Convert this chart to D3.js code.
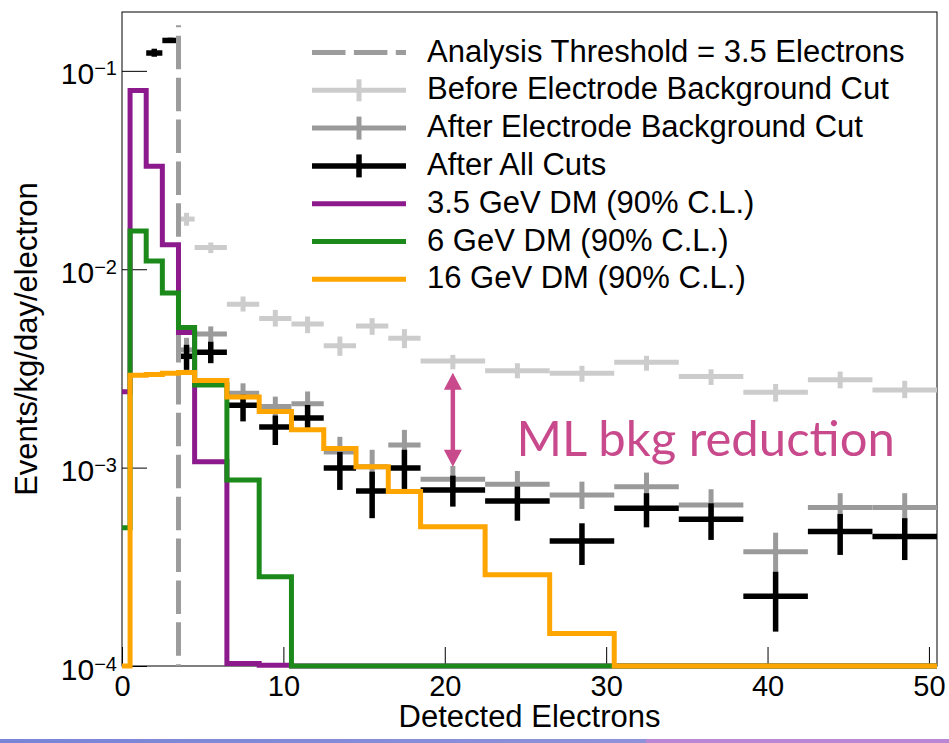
<!DOCTYPE html>
<html><head><meta charset="utf-8">
<script src="https://cdn.jsdelivr.net/npm/d3@7"></script>
<style>
html,body{margin:0;padding:0;background:#fff;}
svg{display:block;}
</style></head>
<body>
<svg id="chart" width="949" height="743"></svg>
<script>
// Bin edges shared by the measured spectra and the DM expectations
const binEdges = [-0.5, 0.5, 1.5, 2.5, 3.5, 4.5, 6.5, 8.5, 10.5, 12.5, 14.5, 16.5, 18.5, 22.5, 26.5, 30.5, 34.5, 38.5, 42.5, 46.5, 50.5];

// DM signal histograms (90% C.L.), events/kg/day/electron
const dm35 = [0.00241, 0.0796, 0.0330, 0.0133, 0.0048, 0.00107, 1.03e-4, 1.01e-4, 0, 0, 0, 0, 0, 0, 0, 0, 0, 0, 0, 0];
const dm6  = [0.000497, 0.0156, 0.0110, 0.00758, 0.00508, 0.00261, 0.000867, 0.000282, 0, 0, 0, 0, 0, 0, 0, 0, 0, 0, 0, 0];
const dm16 = [0, 0.00292, 0.00295, 0.00299, 0.00302, 0.00275, 0.00227, 0.00192, 0.00155, 0.00125, 0.00101, 0.000757, 0.000504, 0.000288, 0.000146, 0, 0, 0, 0, 0];

// Measured rates with error ranges
const beforeCut   = [null, null, null, null, 0.0179, 0.01287, 0.00667, 0.00564, 0.00529, 0.00412, 0.00518, 0.00449, 0.00345, 0.00308, 0.00299, 0.00340, 0.00288, 0.00240, 0.00277, 0.00246];
const beforeCutLo = [null, null, null, null, 0.01656, 0.01206, 0.00612, 0.00514, 0.00476, 0.00366, 0.00467, 0.00400, 0.00313, 0.00282, 0.00271, 0.00308, 0.00261, 0.00215, 0.00251, 0.00224];
const beforeCutHi = [null, null, null, null, 0.01925, 0.01364, 0.00729, 0.00624, 0.00578, 0.00458, 0.00567, 0.00499, 0.00370, 0.00336, 0.00326, 0.00366, 0.00313, 0.00264, 0.00305, 0.00274];

const afterElectrode   = [null, null, null, null, 0.00392, 0.00472, 0.00237, 0.00203, 0.00210, 0.00120, 0.00101, 0.00130, 0.000874, 0.000825, 0.000728, 0.000802, 0.000648, 0.000377, 0.000629, 0.000629];
const afterElectrodeLo = [null, null, null, null, 0.00341, 0.00433, 0.00210, 0.00180, 0.00184, 0.00101, 0.000828, 0.00108, 0.000745, 0.000703, 0.000619, 0.000679, 0.000545, 0.000299, 0.000532, 0.000532];
const afterElectrodeHi = [null, null, null, null, 0.00451, 0.00515, 0.00266, 0.00228, 0.00242, 0.00143, 0.00123, 0.00155, 0.00102, 0.000962, 0.00085, 0.000944, 0.000778, 0.00047, 0.000743, 0.000743];

const afterAll   = [null, null, 0.1230, 0.1423, 0.00364, 0.00382, 0.00206, 0.00160, 0.00178, 0.000997, 0.000763, 0.000997, 0.000772, 0.000679, 0.000427, 0.000624, 0.000549, 0.000225, 0.000476, 0.000449];
const afterAllLo = [null, null, 0.1178, 0.1386, 0.00311, 0.00336, 0.00171, 0.00130, 0.00158, 0.000772, 0.000556, 0.000781, 0.000636, 0.00054, 0.000323, 0.0005, 0.000432, 0.000149, 0.000363, 0.000342];
const afterAllHi = [null, null, 0.1293, 0.1469, 0.00416, 0.00432, 0.00233, 0.00183, 0.00207, 0.00120, 0.000954, 0.00123, 0.000911, 0.000802, 0.000524, 0.000743, 0.000661, 0.000299, 0.000584, 0.000556];

// Analysis threshold
const thresholdX = 3.5;
const thresholdTop = 0.17;

// Axis ticks
const xTicks = [0, 10, 20, 30, 40, 50];
const yTicks = [1e-4, 1e-3, 1e-2, 1e-1];
const yTickExponents = ["\u22124", "\u22123", "\u22122", "\u22121"];

// Legend
const legendLabels = [
  "Analysis Threshold = 3.5 Electrons",
  "Before Electrode Background Cut",
  "After Electrode Background Cut",
  "After All Cuts",
  "3.5 GeV DM (90% C.L.)",
  "6 GeV DM (90% C.L.)",
  "16 GeV DM (90% C.L.)"
];

// Annotation
const arrowX = 20.5, arrowTop = 0.00301, arrowBottom = 0.00101;
const noteText = "ML bkg reduction";
const noteX = 24.45, noteY = 0.00114;

const C = {
  light: "#cccccc", dark: "#9a9a9a", black: "#000000", thresh: "#9c9c9c",
  purple: "#8c1a8c", green: "#1b8a1b", orange: "#ffa500", note: "#c94a8c"
};

const FONT = "'Liberation Sans', Arial, Helvetica, sans-serif";
const svg = d3.select("#chart");
const L = 122, R = 937, T = 12, B = 666;
const yMin = 1e-4;
const x = d3.scaleLinear().domain([0, 50.5]).range([L, R]);
const y = d3.scaleLog().domain([yMin, 0.198]).range([B, T]);

// background
svg.append("rect").attr("width", 949).attr("height", 743).attr("fill", "#fff");

// bottom band
const grad = svg.append("defs").append("linearGradient").attr("id", "band").attr("x1", "0").attr("x2", "1");
grad.append("stop").attr("offset", "0").attr("stop-color", "#7884d6");
grad.append("stop").attr("offset", "1").attr("stop-color", "#8e92da");
svg.append("rect").attr("x", 0).attr("y", 739).attr("width", 646).attr("height", 4).attr("fill", "url(#band)");
svg.append("rect").attr("x", 646).attr("y", 739).attr("width", 303).attr("height", 4).attr("fill", "#bb86d4");

// axes
const gx = svg.append("g").attr("transform", `translate(0,${B})`);
gx.call(d3.axisBottom(x).tickValues(x.ticks(25).filter(t => t % 10 !== 0)).tickSize(-9.5).tickFormat(""));
gx.call(d3.axisBottom(x).tickValues(xTicks).tickSizeInner(-19).tickSizeOuter(0).tickPadding(9).tickFormat(d3.format("d")));
gx.selectAll("text").attr("font-family", FONT).attr("font-size", 29).attr("fill", "#000");
gx.selectAll("line").attr("stroke", "#000").attr("stroke-width", 1);
gx.selectAll(".domain").remove();

const gy = svg.append("g").attr("transform", `translate(${L},0)`);
gy.call(d3.axisLeft(y).tickValues(y.ticks().filter(t => !yTicks.some(m => Math.abs(m - t) / m < 1e-6))).tickSize(-12.5).tickFormat(""));
gy.call(d3.axisLeft(y).tickValues(yTicks).tickSizeInner(-25).tickSizeOuter(0).tickFormat(""));
gy.selectAll("line").attr("stroke", "#000").attr("stroke-width", 1);
gy.selectAll(".domain").remove();
gy.selectAll(".tick").filter(d => yTicks.includes(d)).each(function (d) {
  const i = yTicks.indexOf(d);
  const t = d3.select(this).append("text")
    .attr("x", -5).attr("y", 13).attr("text-anchor", "end")
    .attr("font-family", FONT).attr("fill", "#000");
  t.append("tspan").attr("font-size", 30).text("10");
  t.append("tspan").attr("font-size", 20).attr("dy", -9).text(yTickExponents[i]);
});

// frame
svg.append("rect").attr("x", L).attr("y", T).attr("width", R - L).attr("height", B - T)
  .attr("fill", "none").attr("stroke", "#000").attr("stroke-width", 1);

// axis titles
svg.append("text").attr("x", (L + R) / 2).attr("y", 727).attr("text-anchor", "middle")
  .attr("font-family", FONT).attr("font-size", 31).attr("fill", "#000").text("Detected Electrons");
svg.append("text").attr("transform", `translate(37,${(T + B) / 2}) rotate(-90)`).attr("text-anchor", "middle")
  .attr("font-family", FONT).attr("font-size", 31).attr("fill", "#000").text("Events/kg/day/electron");

// data crosses
function crosses(vals, lo, hi, color, w) {
  const g = svg.append("g").attr("stroke", color).attr("stroke-width", w);
  vals.forEach((v, i) => {
    if (v == null) return;
    const x0 = x(Math.max(binEdges[i], 0)), x1 = x(binEdges[i + 1]);
    const xc = x((binEdges[i] + binEdges[i + 1]) / 2);
    g.append("line").attr("x1", x0).attr("x2", x1).attr("y1", y(v)).attr("y2", y(v));
    g.append("line").attr("x1", xc).attr("x2", xc).attr("y1", y(hi[i])).attr("y2", y(lo[i]));
  });
}
crosses(beforeCut, beforeCutLo, beforeCutHi, C.light, 5);
crosses(afterElectrode, afterElectrodeLo, afterElectrodeHi, C.dark, 5);
crosses(afterAll, afterAllLo, afterAllHi, C.black, 5.5);

// threshold line
svg.append("line").attr("x1", x(thresholdX)).attr("x2", x(thresholdX))
  .attr("y1", y(thresholdTop)).attr("y2", y(yMin))
  .attr("stroke", C.thresh).attr("stroke-width", 5)
  .attr("stroke-dasharray", "33.5 8.4").attr("stroke-dashoffset", 31.3);

// DM histograms
function histPath(vals) {
  const pts = vals.map((v, i) => [binEdges[i], v]);
  pts.push([binEdges[binEdges.length - 1], vals[vals.length - 1]]);
  return d3.line()
    .x(d => x(Math.max(d[0], 0)))
    .y(d => y(Math.max(d[1], yMin)))
    .curve(d3.curveStepAfter)(pts);
}
[[dm35, C.purple], [dm6, C.green], [dm16, C.orange]].forEach(([vals, col]) => {
  svg.append("path").attr("d", histPath(vals)).attr("fill", "none")
    .attr("stroke", col).attr("stroke-width", 5).attr("stroke-linejoin", "miter");
});

// annotation arrow
const ax = x(arrowX), ay0 = y(arrowTop), ay1 = y(arrowBottom);
const headL = 17, headW = 9;
svg.append("line").attr("x1", ax).attr("x2", ax).attr("y1", ay0 + headL - 2).attr("y2", ay1 - headL + 2)
  .attr("stroke", C.note).attr("stroke-width", 4.5);
svg.append("path").attr("fill", C.note)
  .attr("d", `M${ax},${ay0} L${ax - headW},${ay0 + headL} L${ax + headW},${ay0 + headL} Z M${ax},${ay1} L${ax - headW},${ay1 - headL} L${ax + headW},${ay1 - headL} Z`);
svg.append("text").attr("x", x(noteX)).attr("y", y(noteY))
  .attr("font-family", "Lato, 'Open Sans', sans-serif").attr("font-size", 49).attr("fill", C.note).text(noteText);

// legend
const lg = svg.append("g");
const rowY = i => 52.5 + i * 37.8;
const lx0 = 312, lx1 = 406, lxc = (lx0 + lx1) / 2;
lg.append("line").attr("x1", lx0).attr("x2", lx1).attr("y1", rowY(0)).attr("y2", rowY(0))
  .attr("stroke", C.thresh).attr("stroke-width", 5).attr("stroke-dasharray", "33.5 8.4");
[[C.light, 5, 11], [C.dark, 5, 11.5], [C.black, 5.5, 11.5]].forEach(([col, w, h], k) => {
  const yy = rowY(k + 1);
  lg.append("line").attr("x1", lx0).attr("x2", lx1).attr("y1", yy).attr("y2", yy).attr("stroke", col).attr("stroke-width", w);
  lg.append("line").attr("x1", lxc).attr("x2", lxc).attr("y1", yy - h).attr("y2", yy + h).attr("stroke", col).attr("stroke-width", w);
});
[C.purple, C.green, C.orange].forEach((col, k) => {
  const yy = rowY(k + 4);
  lg.append("line").attr("x1", lx0).attr("x2", lx1).attr("y1", yy).attr("y2", yy).attr("stroke", col).attr("stroke-width", 5);
});
legendLabels.forEach((s, i) => {
  lg.append("text").attr("x", 427).attr("y", rowY(i) + 9)
    .attr("font-family", FONT).attr("font-size", 31).attr("fill", "#000").text(s);
});
</script>
</body></html>
